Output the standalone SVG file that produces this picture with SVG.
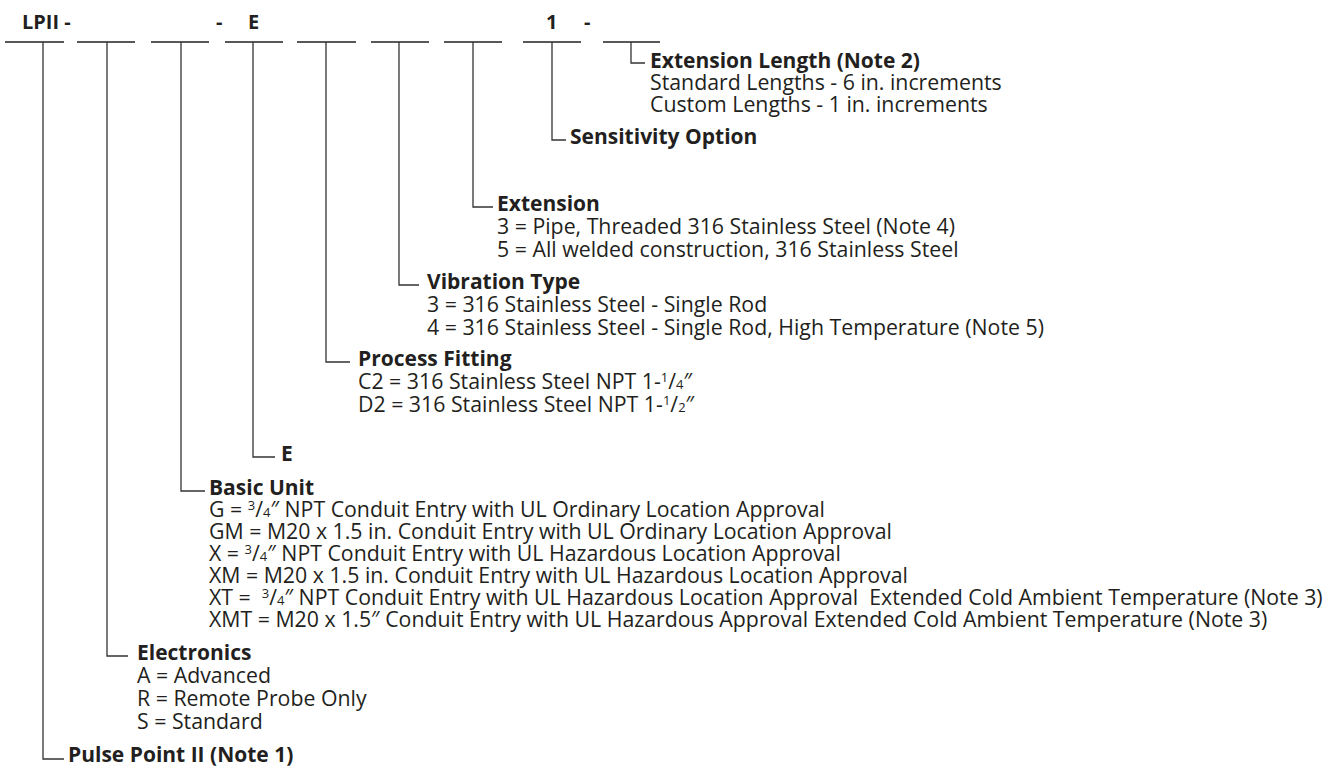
<svg xmlns="http://www.w3.org/2000/svg" width="1341" height="767" viewBox="0 0 1341 767">
<style>
text{font-family:"Open Sans","Liberation Sans",sans-serif;fill:#231f20;font-size:21.3px}
.b{font-weight:bold;font-size:21px}
.top{font-size:20px}
.sm{font-size:13px}
.conn path{fill:none;stroke:#333;stroke-width:1.3}
.ul line{stroke:#231f20;stroke-width:1.6}
</style>
<rect width="1341" height="767" fill="#fff"/>
<g id="header">
<text class="b top" x="22" y="29">LPII -</text>
<text class="b top" x="216" y="29">-</text>
<text class="b top" x="248" y="29">E</text>
<text class="b top" x="546" y="29">1</text>
<text class="b top" x="584" y="29">-</text>
<g class="ul">
<line x1="5" y1="42" x2="64" y2="42"/>
<line x1="77" y1="42" x2="135" y2="42"/>
<line x1="151" y1="42" x2="209" y2="42"/>
<line x1="225" y1="42" x2="283" y2="42"/>
<line x1="297" y1="42" x2="356" y2="42"/>
<line x1="371" y1="42" x2="429" y2="42"/>
<line x1="444" y1="42" x2="502" y2="42"/>
<line x1="523" y1="42" x2="581" y2="42"/>
<line x1="603" y1="42" x2="660" y2="42"/>
</g>
</g>
<g id="connectors" class="conn">
<path d="M631,42 V63 H645"/>
<path d="M552,42 V140 H566"/>
<path d="M473,42 V207 H493"/>
<path d="M399,42 V285 H419"/>
<path d="M326,42 V362 H350"/>
<path d="M253,42 V457 H275"/>
<path d="M181,42 V491 H205"/>
<path d="M107,42 V656 H128"/>
<path d="M43,42 V759 H64"/>
</g>
<g id="ext-length">
<text class="b" x="650" y="68">Extension Length (Note 2)</text>
<text x="650" y="90">Standard Lengths - 6 in. increments</text>
<text x="650" y="112">Custom Lengths - 1 in. increments</text>
</g>
<g id="sensitivity">
<text class="b" x="570" y="144">Sensitivity Option</text>
</g>
<g id="extension">
<text class="b" x="497" y="211">Extension</text>
<text x="497" y="234">3 = Pipe, Threaded 316 Stainless Steel (Note 4)</text>
<text x="497" y="257">5 = All welded construction, 316 Stainless Steel</text>
</g>
<g id="vibration">
<text class="b" x="427" y="289">Vibration Type</text>
<text x="427" y="312">3 = 316 Stainless Steel - Single Rod</text>
<text x="427" y="335">4 = 316 Stainless Steel - Single Rod, High Temperature (Note 5)</text>
</g>
<g id="process-fitting">
<text class="b" x="358" y="366">Process Fitting</text>
<text x="358" y="389">C2 = 316 Stainless Steel NPT 1-<tspan class="sm" dy="-7">1</tspan><tspan dy="7">/</tspan><tspan class="sm">4</tspan>″</text>
<text x="358" y="412">D2 = 316 Stainless Steel NPT 1-<tspan class="sm" dy="-7">1</tspan><tspan dy="7">/</tspan><tspan class="sm">2</tspan>″</text>
</g>
<g id="e-option">
<text class="b" x="281" y="461">E</text>
</g>
<g id="basic-unit">
<text class="b" x="209" y="495">Basic Unit</text>
<text x="209" y="517">G = <tspan class="sm" dy="-7">3</tspan><tspan dy="7">/</tspan><tspan class="sm">4</tspan>″ NPT Conduit Entry with UL Ordinary Location Approval</text>
<text x="209" y="539">GM = M20 x 1.5 in. Conduit Entry with UL Ordinary Location Approval</text>
<text x="209" y="561">X = <tspan class="sm" dy="-7">3</tspan><tspan dy="7">/</tspan><tspan class="sm">4</tspan>″ NPT Conduit Entry with UL Hazardous Location Approval</text>
<text x="209" y="583">XM = M20 x 1.5 in. Conduit Entry with UL Hazardous Location Approval</text>
<text x="209" y="605" xml:space="preserve">XT =  <tspan class="sm" dy="-7">3</tspan><tspan dy="7">/</tspan><tspan class="sm">4</tspan>″ NPT Conduit Entry with UL Hazardous Location Approval  Extended Cold Ambient Temperature (Note 3)</text>
<text x="209" y="627">XMT = M20 x 1.5″ Conduit Entry with UL Hazardous Approval Extended Cold Ambient Temperature (Note 3)</text>
</g>
<g id="electronics">
<text class="b" x="137" y="660">Electronics</text>
<text x="137" y="683">A = Advanced</text>
<text x="137" y="706">R = Remote Probe Only</text>
<text x="137" y="729">S = Standard</text>
</g>
<g id="pulse-point">
<text class="b" x="68" y="762">Pulse Point II (Note 1)</text>
</g>
</svg>
